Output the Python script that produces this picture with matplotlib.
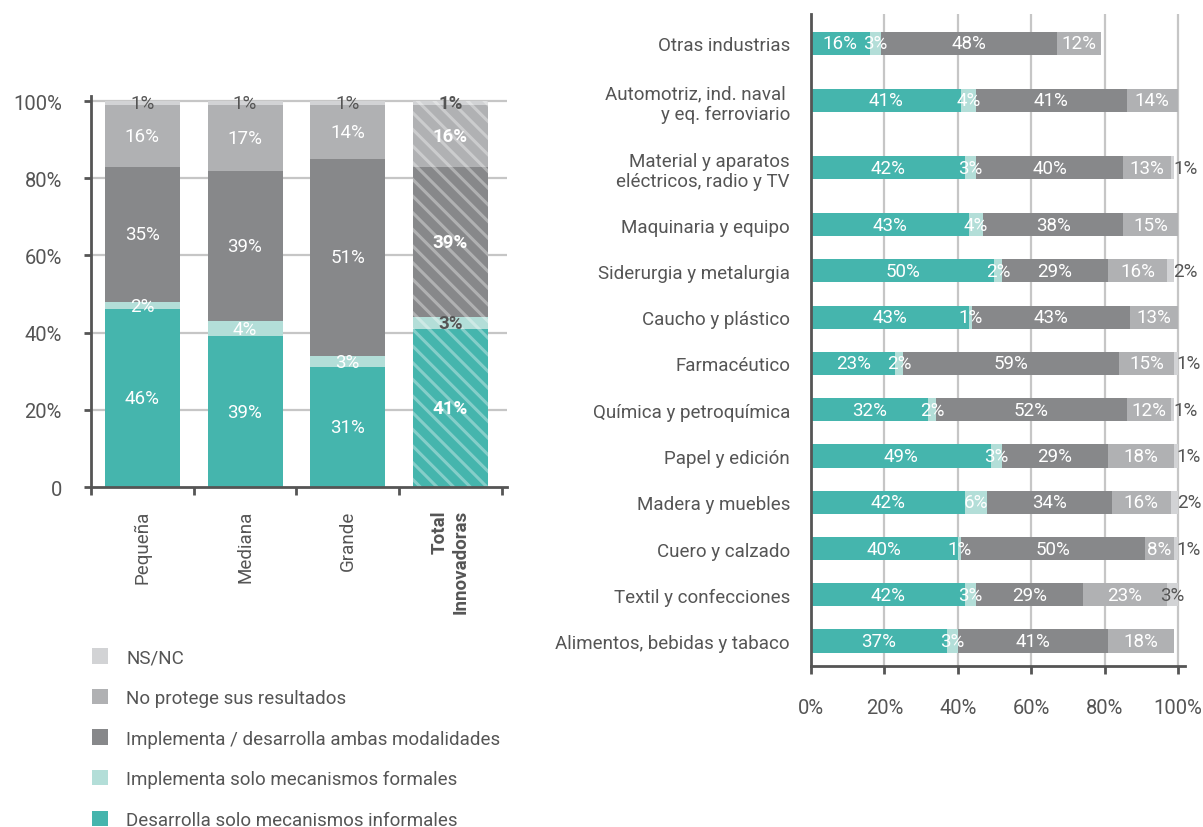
import matplotlib
matplotlib.use("Agg")
import matplotlib.pyplot as plt
from matplotlib.patches import Patch
import numpy as np

plt.rcParams["font.family"] = ["Roboto", "DejaVu Sans"]
plt.rcParams["hatch.linewidth"] = 2.2

# ---- data: size of firm ----
groups = ["Pequeña", "Mediana", "Grande", "Total\nInnovadoras"]
g_informales = [46, 39, 31, 41]
g_formales = [2, 4, 3, 3]
g_ambas = [35, 39, 51, 39]
g_no_protege = [16, 17, 14, 16]
g_nsnc = [1, 1, 1, 1]

# ---- data: industry ----
industries = [
    "Otras industrias",
    "Automotriz, ind. naval \ny eq. ferroviario",
    "Material y aparatos\neléctricos, radio y TV",
    "Maquinaria y equipo",
    "Siderurgia y metalurgia",
    "Caucho y plástico",
    "Farmacéutico",
    "Química y petroquímica",
    "Papel y edición",
    "Madera y muebles",
    "Cuero y calzado",
    "Textil y confecciones",
    "Alimentos, bebidas y tabaco",
]
i_informales = [16, 41, 42, 43, 50, 43, 23, 32, 49, 42, 40, 42, 37]
i_formales = [3, 4, 3, 4, 2, 1, 2, 2, 3, 6, 1, 3, 3]
i_ambas = [48, 41, 40, 38, 29, 43, 59, 52, 29, 34, 50, 29, 41]
i_no_protege = [12, 14, 13, 15, 16, 13, 15, 12, 18, 16, 8, 23, 18]
i_nsnc = [0, 0, 1, 0, 2, 0, 1, 1, 1, 2, 1, 3, 0]

series_names = [
    "Desarrolla solo mecanismos informales",
    "Implementa solo mecanismos formales",
    "Implementa / desarrolla ambas modalidades",
    "No protege sus resultados",
    "NS/NC",
]
colors = ["#45b5ad", "#b3ded8", "#87888a", "#b0b1b3", "#d2d3d5"]
text_dark = "#555555"
spine_c = "#555555"
grid_c = "#c6c6c6"

VAL_FS = 13.5
LBL_FS = 13.5
TICK_FS = 14.5

fig = plt.figure(figsize=(12.03, 8.28), dpi=100)

# ================= left: by firm size =================
axL = fig.add_axes([0.0756, 0.4106, 0.3458, 0.4722])
xg = np.arange(len(groups))
g_series = [g_informales, g_formales, g_ambas, g_no_protege, g_nsnc]
bottom = np.zeros(len(groups))
for si, (vals, col) in enumerate(zip(g_series, colors)):
    vals = np.array(vals, dtype=float)
    for gi in range(len(groups)):
        hatched = gi == len(groups) - 1
        axL.bar(xg[gi], vals[gi], bottom=bottom[gi], width=0.73, color=col,
                edgecolor=(1, 1, 1, 0.35) if hatched else col,
                hatch="\\\\" if hatched else None, linewidth=0, zorder=2)
        if vals[gi] > 0:
            dark = si == 4 or (si == 1 and hatched)
            weight = "bold" if hatched else "normal"
            axL.text(xg[gi], bottom[gi] + vals[gi] / 2, f"{vals[gi]:.0f}%",
                     ha="center", va="center", fontsize=VAL_FS,
                     color=text_dark if dark else "white",
                     fontweight=weight, zorder=4)
    bottom += vals

axL.set_xlim(-0.5, 3.55)
axL.set_ylim(0, 101.3)
axL.set_yticks([0, 20, 40, 60, 80, 100])
axL.set_yticklabels(["0", "20%", "40%", "60%", "80%", "100%"])
axL.set_xticks(np.arange(-0.5, 3.6, 1.0))
axL.set_xticklabels([])
axL.set_xticks(xg, minor=True)
axL.set_xticklabels(groups, minor=True, rotation=90, va="top", ha="center",
                    multialignment="right")
axL.get_xticklabels(minor=True)[-1].set_fontweight("bold")
axL.tick_params(axis="x", which="minor", length=0, pad=16, labelsize=13.5,
                labelcolor=text_dark)
axL.tick_params(axis="x", which="major", length=6, width=2, color=spine_c)
axL.tick_params(axis="y", length=5, width=2, color=spine_c, pad=16,
                labelsize=TICK_FS, labelcolor=text_dark)
for y in [20, 40, 60, 80, 100]:
    axL.axhline(y, color=grid_c, lw=1.6, zorder=1)
for s in ["top", "right"]:
    axL.spines[s].set_visible(False)
for s in ["left", "bottom"]:
    axL.spines[s].set_color(spine_c)
    axL.spines[s].set_linewidth(2)

# legend
handles = [Patch(facecolor=c, edgecolor="none") for c in colors[::-1]]
fig.legend(handles, series_names[::-1], loc="upper left",
           bbox_to_anchor=(0.0700, 0.225), frameon=False, fontsize=LBL_FS,
           handlelength=0.88, handleheight=0.88, handletextpad=0.95,
           labelspacing=1.2, labelcolor=text_dark, borderaxespad=0)

# ================= right: by industry =================
axR = fig.add_axes([0.6741, 0.1944, 0.3109, 0.7874])
nlines = [lbl.count("\n") + 1 for lbl in industries]
extra = 0.23
ypos = [0.0]
for k in range(1, len(industries)):
    step = 1 + extra * (nlines[k - 1] - 1) + extra * (nlines[k] - 1)
    ypos.append(ypos[-1] + step)
ypos = np.array(ypos)

i_series = [i_informales, i_formales, i_ambas, i_no_protege, i_nsnc]
left = np.zeros(len(industries))
for si, (vals, col) in enumerate(zip(i_series, colors)):
    vals = np.array(vals, dtype=float)
    axR.barh(ypos, vals, left=left, height=0.5, color=col, linewidth=0, zorder=2)
    for k, v in enumerate(vals):
        if v <= 0:
            continue
        if si == 4:
            if v >= 3:
                axR.text(left[k] + v / 2, ypos[k], f"{v:.0f}%", ha="center",
                         va="center", fontsize=VAL_FS, color=text_dark, zorder=4)
            else:
                axR.text(left[k] + v - 0.3, ypos[k], f"{v:.0f}%", ha="left",
                         va="center", fontsize=VAL_FS, color=text_dark, zorder=4)
        else:
            axR.text(left[k] + v / 2, ypos[k], f"{v:.0f}%", ha="center",
                     va="center", fontsize=VAL_FS, color="white", zorder=4)
    left += vals

axR.set_ylim(ypos[-1] + 0.54, -0.63)
axR.set_xlim(0, 101.9)
axR.set_yticks(ypos)
axR.set_yticklabels(industries, ha="right", multialignment="right")
axR.tick_params(axis="y", length=0, pad=15, labelsize=LBL_FS, labelcolor=text_dark)
axR.set_xticks([0, 20, 40, 60, 80, 100])
axR.set_xticklabels(["0%", "20%", "40%", "60%", "80%", "100%"])
axR.tick_params(axis="x", length=6, width=2, color=spine_c, pad=17,
                labelsize=TICK_FS, labelcolor=text_dark)
for x in [20, 40, 60, 80, 100]:
    axR.axvline(x, color=grid_c, lw=1.6, zorder=1)
for s in ["top", "right"]:
    axR.spines[s].set_visible(False)
for s in ["left", "bottom"]:
    axR.spines[s].set_color(spine_c)
    axR.spines[s].set_linewidth(2)

fig.savefig("out.png", dpi=100, facecolor="white")
